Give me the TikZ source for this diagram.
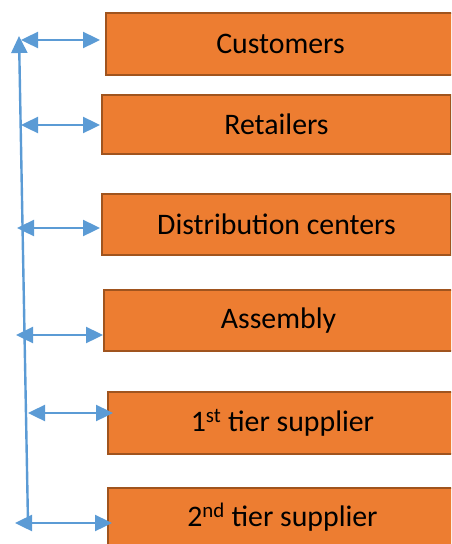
\documentclass[tikz,border=0pt]{standalone}
\usepackage{fontspec}
\setmainfont{Carlito}
\usepackage{tikz}
\usetikzlibrary{arrows.meta, positioning}
\definecolor{boxorange}{RGB}{237,125,49}
\definecolor{boxedge}{RGB}{160,84,30}
\definecolor{linkblue}{RGB}{91,155,213}

\tikzset{
  tier/.style={draw=boxedge, fill=boxorange, line width=1.3pt, anchor=north west,
    inner sep=0pt, outer sep=0pt, minimum width=349pt,
    font=\fontsize{29.8}{34}\selectfont, text=black},
  link/.style={draw=linkblue, line width=2.4pt, {Triangle[length=17pt,width=16pt]}-{Triangle[length=17pt,width=16pt]}}
}

\begin{document}
\begin{tikzpicture}[x=1pt,y=-1pt]

\useasboundingbox (0,0) rectangle (451,544);
\clip (0,0) rectangle (451,544);

\node [tier, minimum height=62pt] (cust) at (106,13) {Customers};
\node [tier, minimum height=59pt] (ret) at (102,95) {Retailers};
\node [tier, minimum height=61pt] (dist) at (102,194) {Distribution centers};
\node [tier, minimum height=61pt] (asm) at (104,290) {Assembly};
\node [tier, minimum height=62pt] (first) at (108,392) {1\textsuperscript{st} tier supplier};
\node [tier, minimum height=58pt] (second) at (108,488) {2\textsuperscript{nd} tier supplier};

% spine on the left
\coordinate (top) at (19,36);
\coordinate (bot) at (28,523);
\draw [draw=linkblue, line width=2.4pt, -{Triangle[length=17pt,width=16pt]}] (bot) -- (top);

\coordinate (lcust) at (21,40);
\coordinate (lret) at (21,125);
\coordinate (ldist) at (17,228);
\coordinate (lasm) at (16,335);
\coordinate (lfirst) at (28,413);
\coordinate (lsecond) at (15,523);

\draw [link, shorten >=6pt] (lcust) -- (lcust -| cust.west);
\draw [link, shorten >=2pt] (lret) -- (lret -| ret.west);
\draw [link, shorten >=2pt] (ldist) -- (ldist -| dist.west);
\draw [link, shorten >=1pt] (lasm) -- (lasm -| asm.west);
\draw [link, shorten >=-5pt] (lfirst) -- (lfirst -| first.west);
\draw [link, shorten >=-4pt] (lsecond) -- (lsecond -| second.west);

\end{tikzpicture}
\end{document}
